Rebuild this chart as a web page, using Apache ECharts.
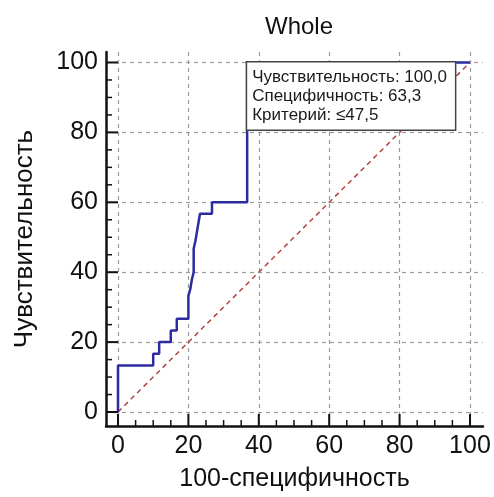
<!DOCTYPE html>
<html>
<head>
<meta charset="utf-8">
<script src="https://cdn.jsdelivr.net/npm/echarts@6/dist/echarts.min.js"></script>
<style>
  html, body { margin: 0; padding: 0; background: #fff; }
  #roc { width: 494px; height: 497px; }
</style>
</head>
<body>
<div id="roc"></div>
<script>
// ROC曲线的点 (100-специфичность, чувствительность)
var rocX = [0, 0, 10, 10, 11.7, 11.7, 15, 15, 16.7, 16.7, 20, 20, 20.5, 21, 21.5, 21.5, 22, 22.5, 23.3, 26.7, 26.7, 36.7, 36.7, 100];
var rocY = [0, 13.3, 13.3, 16.7, 16.7, 20, 20, 23.3, 23.3, 26.7, 26.7, 33.3, 35, 38, 40, 46.7, 49, 52, 56.7, 56.7, 60, 60, 100, 100];

// 对角线
var diagX = [0, 100];
var diagY = [0, 100];

// 刻度
var majorTicks = [0, 20, 40, 60, 80, 100];
var minorTicks = [5, 10, 15, 25, 30, 35, 45, 50, 55, 65, 70, 75, 85, 90, 95];

// 最佳切点和说明文字
var cutPoint = [36.7, 100];
var cutLines = ['Чувствительность: 100,0', 'Специфичность: 63,3', 'Критерий: ≤47,5'];

var FONT = '"Liberation Sans", Arial, sans-serif';
var X_MIN = -3.41, X_MAX = 103.7, Y_MIN = -4.0, Y_MAX = 103.0;

function pairs(xs, ys) {
  var out = [];
  for (var i = 0; i < xs.length; i++) out.push([xs[i], ys[i]]);
  return out;
}

var myChart = echarts.init(document.getElementById('roc'));

var mainAxis = function (name, min, max, nameGap, nameSize) {
  return {
    type: 'value', min: min, max: max,
    name: name, nameLocation: 'middle', nameGap: nameGap,
    nameTextStyle: { color: '#111', fontSize: nameSize, fontFamily: FONT },
    axisLine: { show: true, onZero: false, lineStyle: { color: '#111', width: 2.5 } },
    axisTick: { show: false, customValues: majorTicks },
    axisLabel: { customValues: majorTicks, color: '#111', fontSize: 25, fontFamily: FONT, margin: 8 },
    splitLine: { show: true, lineStyle: { color: '#9a9a9a', type: [4, 4], width: 1.2 } }
  };
};

// 刻度线: 用custom系列按坐标轴比例画, 大刻度长, 小刻度短
var allTicks = majorTicks.concat(minorTicks);
function tickSeries(dim) {
  var data = allTicks.map(function (v) { return dim === 'x' ? [v, Y_MIN] : [X_MIN, v]; });
  return {
    type: 'custom', silent: true, clip: false, z: 4,
    data: data,
    renderItem: function (params, api) {
      var v = dim === 'x' ? api.value(0) : api.value(1);
      var big = majorTicks.indexOf(v) >= 0;
      var len = big ? 12 : 6;
      var p = api.coord([api.value(0), api.value(1)]);
      var shape = dim === 'x'
        ? { x1: p[0], y1: p[1], x2: p[0], y2: p[1] - len }
        : { x1: p[0], y1: p[1], x2: p[0] + len, y2: p[1] };
      return { type: 'line', shape: shape, style: { stroke: '#111', lineWidth: big ? 2 : 1.5 } };
    }
  };
}

var option = {
  animation: false,
  title: {
    text: 'Whole', left: 294, top: 10, textAlign: 'center',
    textStyle: { color: '#111', fontSize: 24, fontWeight: 'normal', fontFamily: FONT }
  },
  grid: { left: 106, right: 11, top: 52, bottom: 70 },
  xAxis: mainAxis('100-специфичность', X_MIN, X_MAX, 41, 25),
  yAxis: mainAxis('Чувствительность', Y_MIN, Y_MAX, 68, 26),
  series: [
    {
      name: 'diag', type: 'line', data: pairs(diagX, diagY),
      symbol: 'none', silent: true,
      lineStyle: { color: '#b04545', width: 1.5, type: [5, 4] }
    },
    {
      name: 'ROC', type: 'line', data: pairs(rocX, rocY),
      symbol: 'none',
      lineStyle: { color: '#2c2c9e', width: 2.5 }
    },
    tickSeries('x'),
    tickSeries('y')
  ]
};

myChart.setOption(option);

// 说明框挂在切点上
var p = myChart.convertToPixel({ gridIndex: 0 }, cutPoint);
myChart.setOption({
  graphic: [{
    type: 'text', x: p[0], y: p[1], z: 100, silent: true,
    style: {
      text: cutLines.join('\n'),
      fill: '#1a1a1a', fontSize: 17, lineHeight: 19, fontFamily: FONT,
      backgroundColor: '#ffffff', borderColor: '#444', borderWidth: 1.5,
      padding: [5, 8, 5, 5]
    }
  }]
});
</script>
</body>
</html>
